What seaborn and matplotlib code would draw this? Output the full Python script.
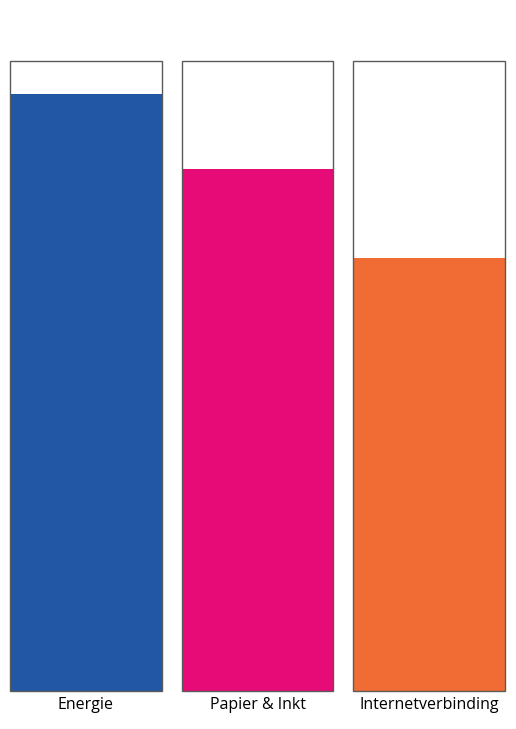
import pandas as pd
import matplotlib
matplotlib.use("Agg")
import matplotlib.pyplot as plt
import seaborn as sns

# Data (percent of each box filled)
categories = ["Energie", "Papier & Inkt", "Internetverbinding"]
values = [94.8, 82.9, 68.7]
full = [100, 100, 100]
colors = ["#2157A5", "#E60B76", "#F16C34"]

df = pd.DataFrame({"cat": categories, "value": values, "full": full})

sns.set_theme(style="white")
plt.rcParams["font.family"] = ["Open Sans", "DejaVu Sans"]

fig = plt.figure(figsize=(5.16, 7.29), dpi=100)
ax = fig.add_axes([10 / 516, 38 / 729, 495 / 516, 630 / 729])

# filled part
sns.barplot(data=df, x="cat", y="value", hue="cat", palette=colors,
            width=0.884, linewidth=0, legend=False, saturation=1, ax=ax)
# outline box
sns.barplot(data=df, x="cat", y="full", width=0.884, fill=False,
            edgecolor="#5a5a5a", linewidth=1.0, ax=ax)

# don't let the outer edges get cut off at the axes border
for p in ax.patches:
    p.set_clip_on(False)

ax.set_xlim(-0.442, 2.442)
ax.set_ylim(0, 100)
ax.set_xlabel("")
ax.set_ylabel("")
ax.set_yticks([])
ax.tick_params(axis="x", length=0, pad=4, labelsize=11.5, labelcolor="black")
sns.despine(ax=ax, left=True, bottom=True)

fig.savefig("out.png", dpi=100)
